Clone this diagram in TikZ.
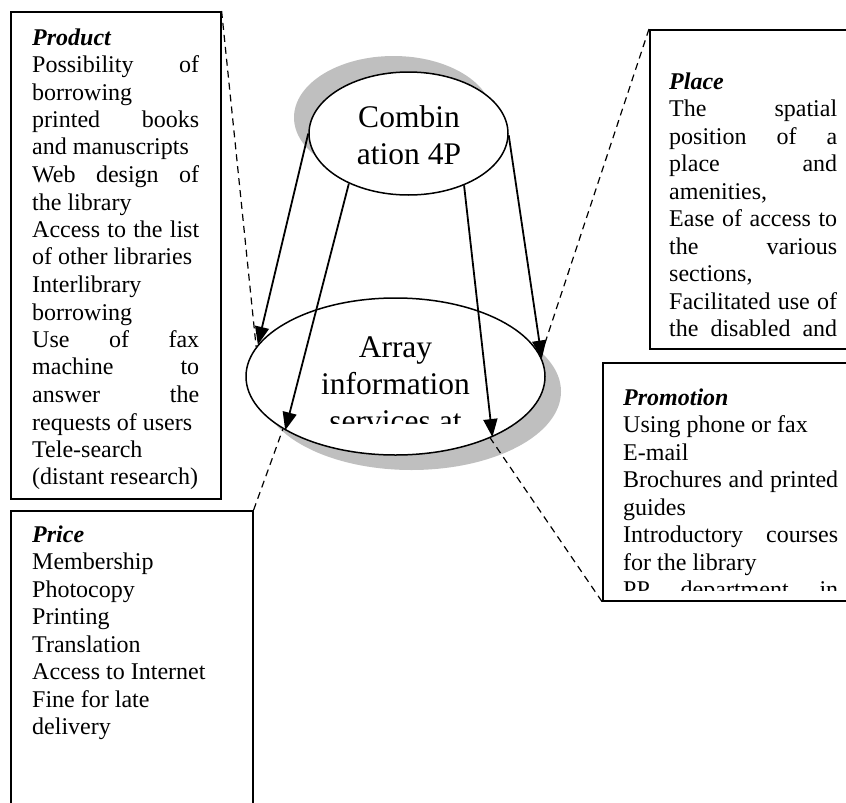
\documentclass[tikz,border=0pt]{standalone}
\usepackage{fontspec}
\setmainfont{Liberation Serif}
\usepackage{tikz}
\usetikzlibrary{arrows.meta,shapes.geometric,shadows}

\begin{document}
\begin{tikzpicture}[x=1pt, y=-1pt,
    box/.style={draw, line width=1.6pt, anchor=north west, inner sep=0pt},
    txt/.style={inner sep=0pt, anchor=base west, align=flush left,
      font=\fontsize{24}{27.5}\selectfont},
    disc/.style={ellipse, draw, line width=1.5pt, fill=white},
    big/.style={inner sep=0pt, anchor=base, align=center,
      font=\fontsize{31.5}{37}\selectfont},
    feed/.style={-{Triangle[length=18pt, width=14pt]}, line width=1.8pt},
    link/.style={dash pattern=on 7pt off 5pt, line width=1.2pt}]

  \useasboundingbox (0,0) rectangle (846,803);
  \clip (0,0) rectangle (846,803);

  % Define nodes

  \node[box, minimum width=210pt, minimum height=487pt] (prod) at (10,11) {};
  \node[txt, text width=167pt] (prodtext) at (32,45) {%
    \textbf{\textit{Product}}\\
    Possibility \hfill of\\
    borrowing\\
    printed \hfill books\\
    and manuscripts\\
    Web \hfill design \hfill of\\
    the library\\
    Access \hfill to \hfill the \hfill list\\
    of other libraries\\
    Interlibrary\\
    borrowing\\
    Use \hfill of \hfill fax\\
    machine \hfill to\\
    answer \hfill the\\
    requests of users\\
    Tele-search\\
    (distant research)};

  \node[box, minimum width=242pt, minimum height=320pt] (price) at (10,510) {};
  \node[txt, text width=200pt] (pricetext) at (32,542) {%
    \textbf{\textit{Price}}\\
    Membership\\
    Photocopy\\
    Printing\\
    Translation\\
    Access to Internet\\
    Fine for late\\
    delivery};

  \node[box, minimum width=211pt, minimum height=319pt] (place) at (649,29) {};
  \begin{scope}
    \clip (649,29) rectangle (846,336);
    \node[txt, text width=168pt] (placetext) at (669,89) {%
      \textbf{\textit{Place}}\\
      The \hfill spatial\\
      position \hfill of \hfill a\\
      place \hfill and\\
      amenities,\\
      Ease \hfill of \hfill access \hfill to\\
      the \hfill various\\
      sections,\\
      Facilitated \hfill use \hfill of\\
      the \hfill disabled \hfill and};
  \end{scope}

  \node[box, minimum width=258pt, minimum height=238pt] (promo) at (602,362) {};
  \begin{scope}
    \clip (602,362) rectangle (846,590);
    \node[txt, text width=215pt] (promotext) at (623,405) {%
      \textbf{\textit{Promotion}}\\
      Using phone or fax\\
      E-mail\\
      Brochures \hfill and \hfill printed\\
      guides\\
      Introductory \hfill courses\\
      for the library\\
      PP \hfill department \hfill in};
  \end{scope}

  \node[disc, minimum width=199pt, minimum height=123pt,
    drop shadow={shadow xshift=-15pt, shadow yshift=16pt, fill=black!25, opacity=1}]
    (mix) at (408.5,133.5) {};
  \node[big] (mixtext) at (409,164) {Combin\\ation 4P};

  \node[disc, minimum width=299pt, minimum height=157pt,
    drop shadow={shadow xshift=16pt, shadow yshift=-15pt, fill=black!25, opacity=1}]
    (arr) at (395.5,376.5) {};
  \begin{scope}
    \clip (250,300) rectangle (545,423);
    \node[big] (arrtext) at (395.5,431) {Array\\information\\services at};
  \end{scope}

  % Connect the nodes
  \draw[feed] (mix.180) -- (arr.167);
  \draw[feed] (mix.220) -- (arr.206);
  \draw[feed] (mix.317) -- (arr.328);
  \draw[feed] (mix.359) -- (arr.7);

  \draw[link] (prod.north east) -- (arr.168);
  \draw[link] (price.north east) -- (arr.205);
  \draw[link] (place.north west) -- (arr.8);
  \draw[link] (promo.south west) -- (arr.327);

\end{tikzpicture}
\end{document}
